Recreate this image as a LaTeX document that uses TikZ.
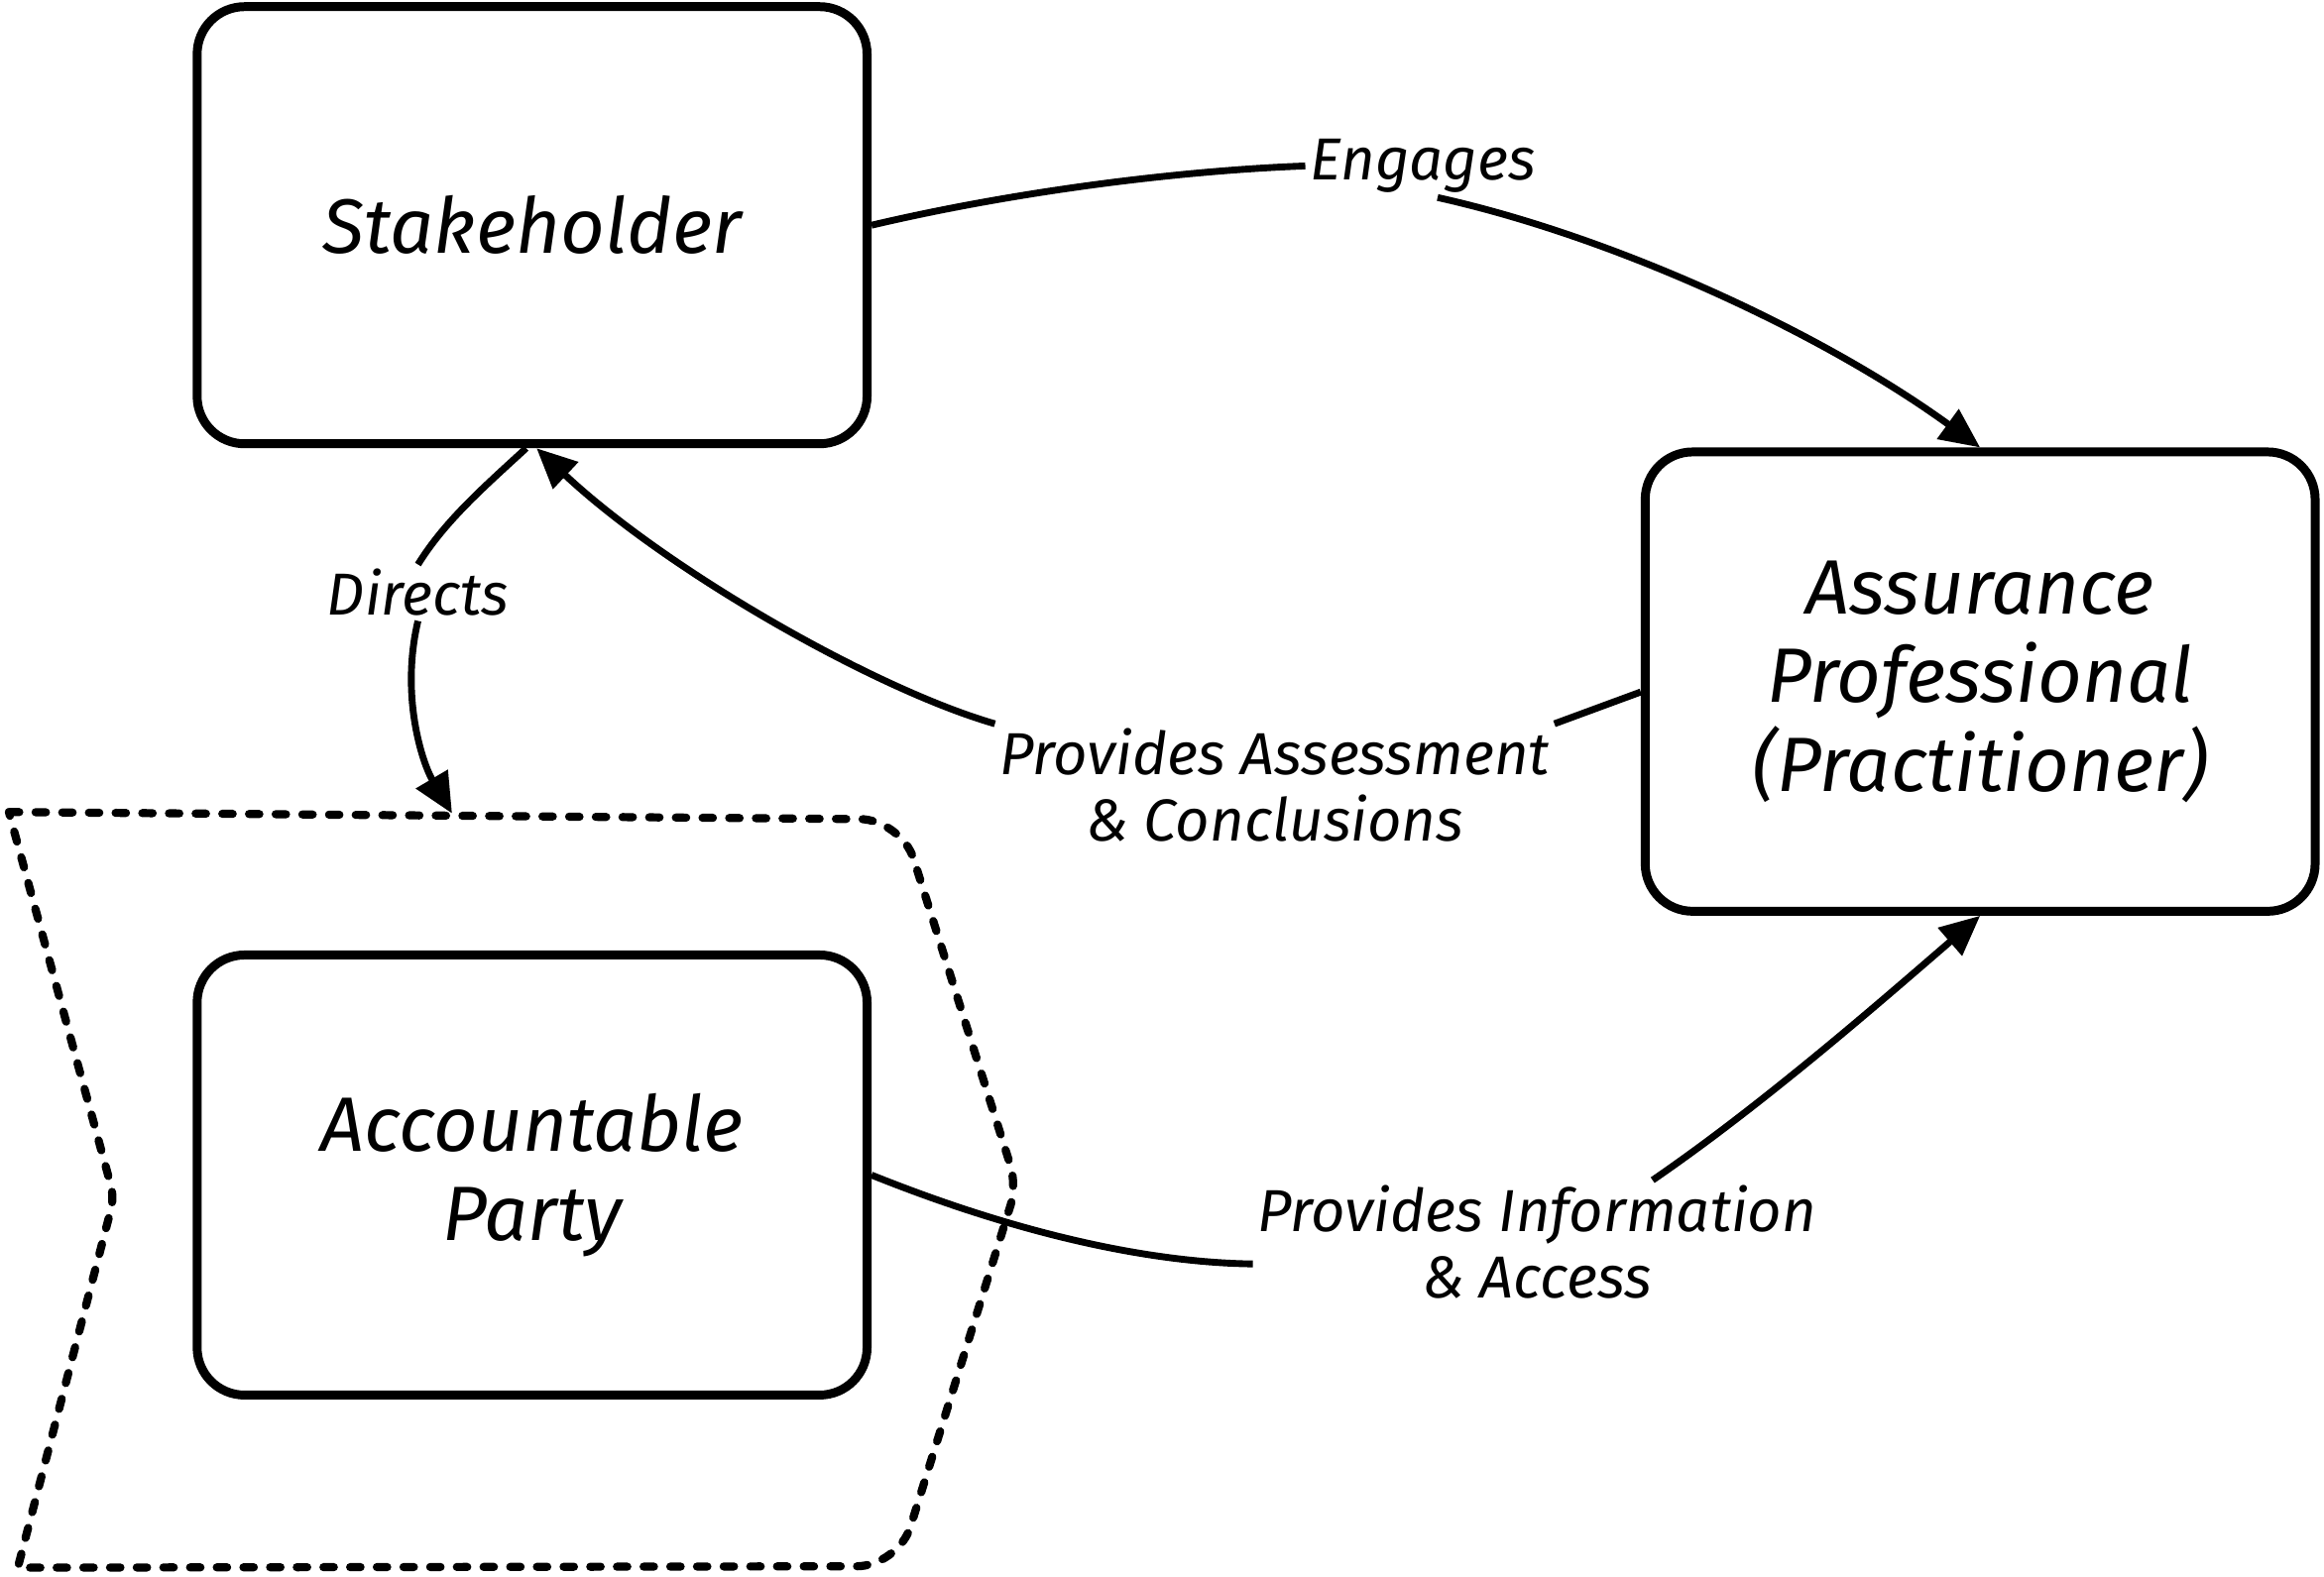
\documentclass[tikz,border=0pt]{standalone}
\usepackage{fontspec}
\setmainfont{Fira Sans}
\usetikzlibrary{arrows.meta}
\begin{document}
\begin{tikzpicture}[x=1pt,y=-1pt,
  box/.style={draw, line width=6pt, rounded corners=32pt, align=center,
    font=\fontsize{52}{60}\selectfont\itshape, inner sep=0pt},
  lbl/.style={align=center, font=\fontsize{40}{45}\selectfont\itshape, inner sep=3pt},
  conn/.style={line width=4.6pt},
  arr/.style={conn, -{Triangle[length=27pt,width=24pt]}},
  region/.style={line width=5.5pt, dash pattern=on 7pt off 11pt, line cap=round, line join=round}]
\useasboundingbox (0,0) rectangle (1568,1064);
% boxes
\node[box, minimum width=452pt, minimum height=295pt] (stake) at (359,152) {Stakeholder};
\node[box, minimum width=452pt, minimum height=310pt] (assur) at (1336,460) {Assurance\\Professional\\(Practitioner)};
\node[box, minimum width=452pt, minimum height=297pt] (acc) at (359,793) {Accountable\\Party};
% dashed region
\coordinate (r1) at (6,548);
\coordinate (r2) at (608,553);
\coordinate (r3) at (686,800);
\coordinate (r4) at (606,1057);
\coordinate (r5) at (12,1058);
\coordinate (r6) at (77,808);
\coordinate (rtop) at (305,549);
\draw[region] (r1) [rounded corners=28pt] -- (r2) [rounded corners=14pt] -- (r3) [rounded corners=28pt] -- (r4) [sharp corners] -- (r5) [rounded corners=8pt] -- (r6) [sharp corners] -- cycle;
% labels
\node[lbl] (eng) at (960,112) {Engages};
\node[lbl] (dir) at (282,400) {Directs};
\node[lbl] (ass) at (860,530) {Provides Assessment\\\& Conclusions};
\node[lbl] (inf) at (1037,838) {Provides Information\\\& Access};
% connectors
\draw[conn] (stake.east) .. controls (690,128) and (800,115) .. (eng.west);
\draw[arr] (eng.-65) .. controls (1090,160) and (1230,225) .. (assur.north);
\draw[conn] ([yshift=-7pt]assur.west) -- (ass.north east);
\draw[arr] (ass.north west) .. controls (590,465) and (450,385) .. ([xshift=3pt]stake.south);
\draw[conn] ([xshift=-4pt]stake.south) .. controls (325,330) and (300,352) .. (dir.north);
\draw[arr] (dir.south) .. controls (270,470) and (285,515) .. (rtop);
\draw[conn] (acc.east) .. controls (680,830) and (770,852) .. ([yshift=-15pt]inf.west);
\draw[arr] ([xshift=78pt]inf.north) .. controls (1190,745) and (1270,675) .. (assur.south);
\end{tikzpicture}
\end{document}
